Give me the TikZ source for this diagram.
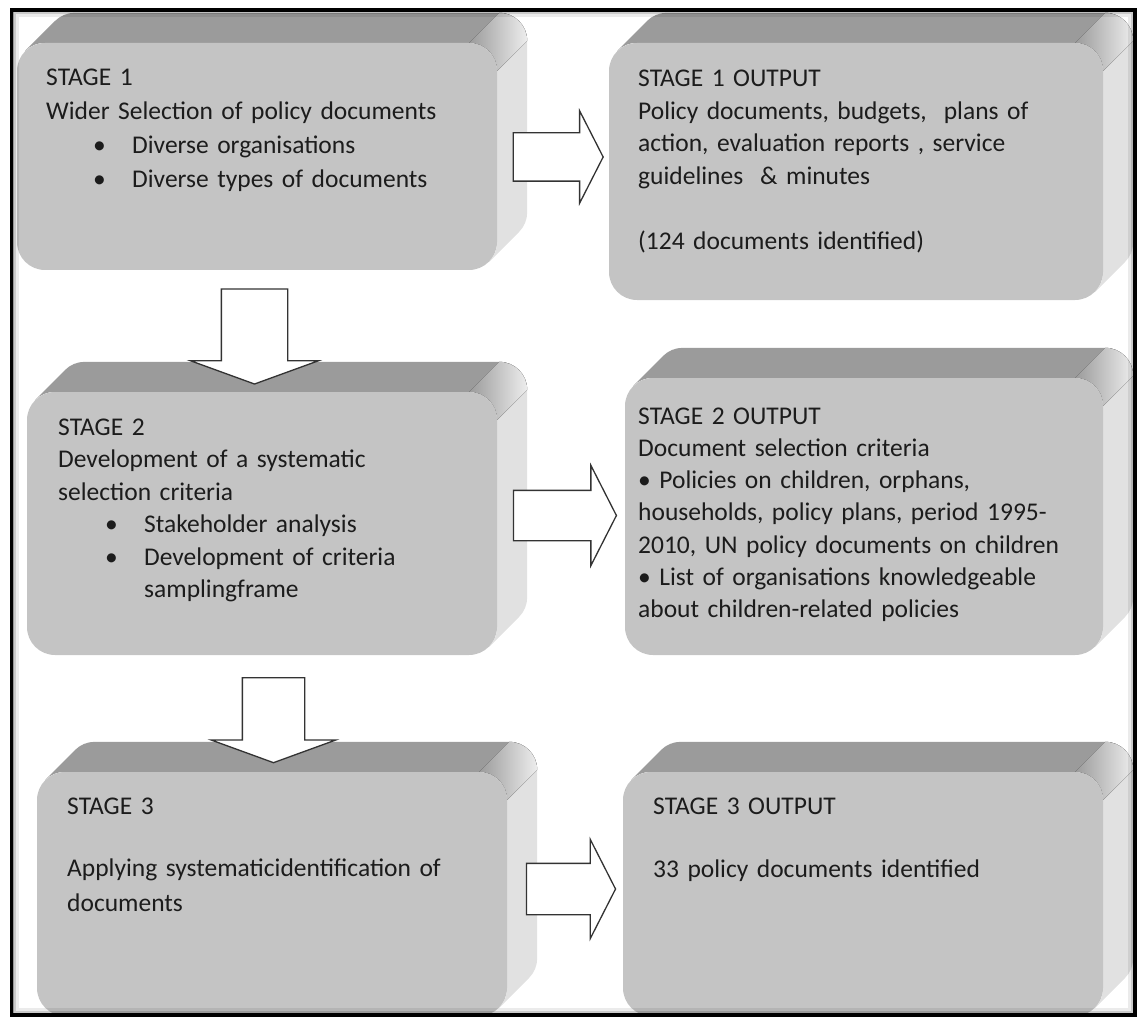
\documentclass[tikz,border=0pt]{standalone}
\usepackage{fontspec}
\setmainfont{Carlito}
\usetikzlibrary{shapes.arrows,backgrounds,calc}

\definecolor{facec}{HTML}{C4C4C4}
\definecolor{topc}{HTML}{9B9B9B}
\definecolor{sidec}{HTML}{E1E1E1}
\definecolor{inkc}{HTML}{1C1C1C}

% indent + bullet, as in the word-processor lists
\newcommand\bul{\hspace*{47pt}\makebox[39pt][l]{\textbullet}}

% depth of a box: top band, right band and shaded corner behind a face node
\newcommand\slab[1]{%
  \fill[topc] let \p1=(#1.north west), \p2=(#1.south east) in
    (\x1+8.2pt,\y1-8.2pt) arc[start angle=135,end angle=90,radius=28pt]
    -- (\x2-28pt,\y1) -- ++(30pt,30pt) -- (\x1+58pt,\y1+30pt)
    arc[start angle=90,end angle=135,radius=28pt] -- cycle;
  \fill[sidec] let \p1=(#1.north west), \p2=(#1.south east) in
    (\x2-28pt,\y1) arc[start angle=90,end angle=0,radius=28pt]
    -- (\x2,\y2+28pt) arc[start angle=0,end angle=-45,radius=28pt]
    -- ++(30pt,30pt) arc[start angle=-45,end angle=0,radius=28pt]
    -- (\x2+30pt,\y1+2pt) arc[start angle=0,end angle=90,radius=28pt] -- cycle;
  \fill[left color=topc,right color=sidec!60!white] let \p1=(#1.north west), \p2=(#1.south east) in
    (\x2-28pt,\y1) arc[start angle=90,end angle=0,radius=28pt]
    -- ++(30pt,30pt) arc[start angle=0,end angle=90,radius=28pt] -- cycle;
}

\begin{document}
\begin{tikzpicture}[
  x=1pt,y=1pt,
  face/.style={rectangle,fill=facec,rounded corners=28pt,inner sep=0pt},
  txt/.style={anchor=base west,align=left,inner sep=0pt,text=inkc,text width=480pt,
              font=\fontsize{25.5}{#1}\selectfont},
  txt/.default=33pt,
  blk/.style={single arrow,draw=black!80,fill=white,line width=1.3pt,inner sep=0pt,
              single arrow head indent=0pt,line join=miter}
]
\useasboundingbox (0,0) rectangle (1141,-1019);
\coordinate (fnw) at (11.5,-10);
\coordinate (fse) at (1135,-1015);

\begin{scope}
\clip (fnw) rectangle (fse);

% front faces
\node[face,minimum width=480pt,minimum height=227pt] (s1) at (257,-156.5) {};
\node[face,minimum width=494pt,minimum height=257pt] (o1) at (856,-171.5) {};
\node[face,minimum width=470pt,minimum height=263pt] (s2) at (262,-523.5) {};
\node[face,minimum width=478pt,minimum height=277pt] (o2) at (864,-516.5) {};
\node[face,minimum width=470pt,minimum height=244pt] (s3) at (272,-894) {};
\node[face,minimum width=480pt,minimum height=244pt] (o3) at (863,-894) {};

\begin{scope}[on background layer]
\slab{s1} \slab{o1} \slab{s2} \slab{o2} \slab{s3} \slab{o3}
\end{scope}

% texts
\node[txt=34pt] (s1t) at (46,-86) {STAGE 1\\
  Wider Selection of policy documents\\
  \bul Diverse organisations\\
  \bul Diverse types of documents};
\node[txt=32.5pt] (o1t) at (638,-87) {STAGE 1 OUTPUT\\
  Policy documents, budgets, \ plans of\\
  action, evaluation reports , service\\
  guidelines \ \& minutes\\[32.5pt]
  (124 documents identified)};
\node[txt=32.5pt] (s2t) at (58,-435) {STAGE 2\\
  Development of a systematic\\
  selection criteria\\
  \bul Stakeholder analysis\\
  \bul Development of criteria\\
  \hspace*{86pt}samplingframe};
\node[txt=32.3pt] (o2t) at (638,-424) {STAGE 2 OUTPUT\\
  Document selection criteria\\
  \textbullet\ Policies on children, orphans,\\
  households, policy plans, period 1995-\\
  2010, UN policy documents on children\\
  \textbullet\ List of organisations knowledgeable\\
  about children-related policies};
\node[txt=35pt] (s3t) at (67,-814) {STAGE 3\\[27pt]
  Applying systematicidentification of\\
  documents};
\node[txt=35pt] (o3t) at (653,-814) {STAGE 3 OUTPUT\\[28pt]
  33 policy documents identified};

% block arrows
\node[blk,single arrow tip angle=126,minimum height=90pt,inner ysep=23.5pt,
      single arrow head extend=22pt] (a1) at (552,-157) {};
\node[blk,single arrow tip angle=126,minimum height=103pt,inner ysep=24.5pt,
      single arrow head extend=25pt] (a2) at (558.5,-515.5) {};
\node[blk,single arrow tip angle=126,minimum height=89pt,inner ysep=25pt,
      single arrow head extend=24pt] (a3) at (564.5,-889) {};
\node[blk,rotate=-90,single arrow tip angle=140,minimum height=95pt,inner ysep=32.5pt,
      single arrow head extend=31pt] (d1) at (254.5,-330.5) {};
\node[blk,rotate=-90,single arrow tip angle=140,minimum height=85pt,inner ysep=30.5pt,
      single arrow head extend=31pt] (d2) at (273.5,-714.5) {};

% inner shadow of the frame
\foreach \w/\o in {14/0.08,9/0.14,5/0.25}
  \draw[black,opacity=\o,line width=\w pt] (fnw) rectangle (fse);
\end{scope}

\draw[black,line width=3.5pt] (fnw) rectangle (fse);
\end{tikzpicture}
\end{document}
